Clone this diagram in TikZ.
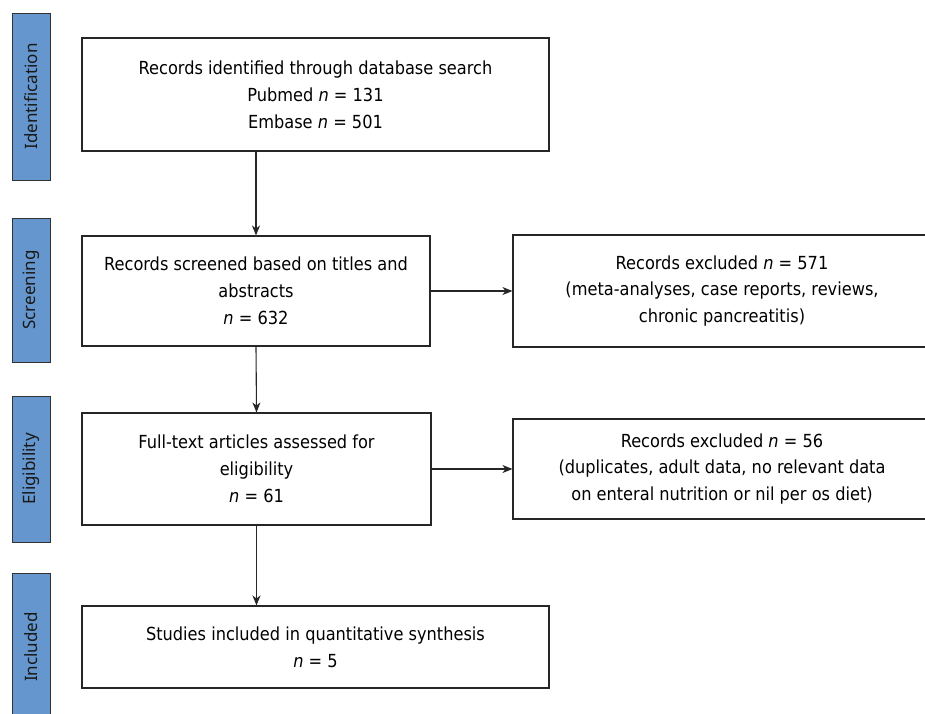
\documentclass[tikz,border=0pt]{standalone}
\usepackage{fontspec}
\setmainfont{DejaVu Sans Condensed}
\newfontfamily\barfont{Noto Sans}
\usetikzlibrary{arrows.meta}
\definecolor{phaseblue}{RGB}{101,150,205}
\begin{document}
\begin{tikzpicture}[x=1pt,y=-1pt,
  box/.style={draw=black!85, line width=1.1pt, fill=white, align=center,
    font=\fontsize{18}{26.8}\selectfont, inner sep=0pt},
  phase/.style={draw=black!80, line width=1pt, fill=phaseblue, rotate=90,
    font=\barfont\fontsize{17}{19}\selectfont, inner sep=0pt, text=black!90},
  arr/.style={draw=black!85, line width=1.1pt, -{Stealth[length=10pt,width=8pt,inset=3pt]}},
  ]
\useasboundingbox (0,0) rectangle (925,713);
\clip (0,0) rectangle (925,713);

% phase bars
\node[phase, minimum width=167, minimum height=38] (p1) at (31.5,96.5) {Identification};
\node[phase, minimum width=144, minimum height=38] (p2) at (31.5,290) {Screening};
\node[phase, minimum width=146, minimum height=38] (p3) at (31.5,469) {Eligibility};
\node[phase, minimum width=148, minimum height=38] (p4) at (31.5,647) {Included};

% main boxes
\node[box, minimum width=467, minimum height=113] (b1) at (315.5,94.5)
  {Records identified through database search\\Pubmed \textit{n} = 131\\Embase \textit{n} = 501};
\node[box, minimum width=348, minimum height=110] (b2) at (256,291)
  {Records screened based on titles and\\abstracts\\\textit{n} = 632};
\node[box, minimum width=349, minimum height=112] (b3) at (256.5,469)
  {Full-text articles assessed for\\eligibility\\\textit{n} = 61};
\node[box, minimum width=467, minimum height=82] (b4) at (315.5,647)
  {Studies included in quantitative synthesis\\\textit{n} = 5};

% exclusion boxes
\node[box, minimum width=418, minimum height=112] (r1) at (722,291)
  {Records excluded \textit{n} = 571\\(meta-analyses, case reports, reviews,\\chronic pancreatitis)};
\node[box, minimum width=418, minimum height=100] (r2) at (722,469)
  {Records excluded \textit{n} = 56\\(duplicates, adult data, no relevant data\\on enteral nutrition or nil per os diet)};

% connectors
\draw[arr] (b1.south -| b2.north) -- (b2.north);
\draw[arr] (b2.south) -- (b3.north);
\draw[arr] (b3.south) -- (b3.south |- b4.north);
\draw[arr] (b2.east) -- (r1.west);
\draw[arr] (b3.east) -- (r2.west);
\end{tikzpicture}
\end{document}
